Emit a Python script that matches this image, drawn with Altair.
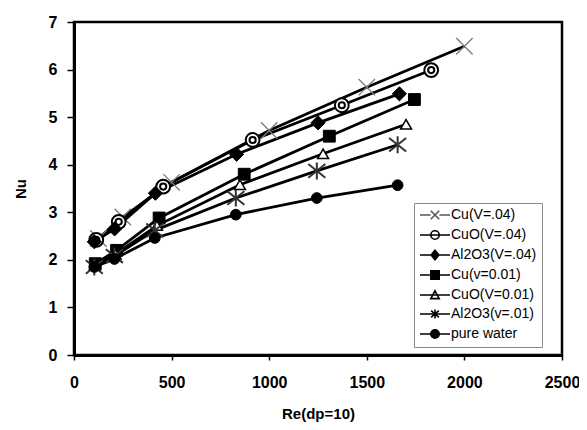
import altair as alt
import pandas as pd

# ---- data ----
series_names = ["Cu(V=.04)", "CuO(V=.04)", "Al2O3(V=.04)", "Cu(v=0.01)",
                "CuO(V=0.01)", "Al2O3(v=.01)", "pure water"]

re_cu_v04 = [125, 250, 500, 1000, 1500, 2000]
nu_cu_v04 = [2.45, 2.9, 3.63, 4.72, 5.63, 6.49]

re_cuo_v04 = [114, 229, 457, 915, 1372, 1830]
nu_cuo_v04 = [2.42, 2.8, 3.54, 4.52, 5.25, 5.99]

re_al_v04 = [104, 208, 417, 833, 1250, 1667]
nu_al_v04 = [2.38, 2.65, 3.4, 4.22, 4.88, 5.49]

re_cu_v01 = [109, 218, 436, 872, 1308, 1744]
nu_cu_v01 = [1.92, 2.2, 2.88, 3.8, 4.6, 5.37]

re_cuo_v01 = [106, 213, 425, 850, 1276, 1701]
nu_cuo_v01 = [1.88, 2.12, 2.72, 3.58, 4.23, 4.85]

re_al_v01 = [104, 207, 414, 829, 1244, 1658]
nu_al_v01 = [1.85, 2.08, 2.62, 3.3, 3.87, 4.42]

re_water = [104, 207, 414, 829, 1244, 1658]
nu_water = [1.85, 2.02, 2.46, 2.95, 3.3, 3.57]

x_ticks = [0, 500, 1000, 1500, 2000, 2500]
y_ticks = [0, 1, 2, 3, 4, 5, 6, 7]

all_re = [re_cu_v04, re_cuo_v04, re_al_v04, re_cu_v01, re_cuo_v01, re_al_v01, re_water]
all_nu = [nu_cu_v04, nu_cuo_v04, nu_al_v04, nu_cu_v01, nu_cuo_v01, nu_al_v01, nu_water]

rows = []
for name, xs, ys in zip(series_names, all_re, all_nu):
    for i, (a, b) in enumerate(zip(xs, ys)):
        rows.append({"series": name, "Re": a, "Nu": b, "order": i})
df = pd.DataFrame(rows)

# ---- marker shapes ----
X_PATH = "M-1,-1L1,1M-1,1L1,-1"
RING_PATH = ("M1,0A1,1,0,1,1,-1,0A1,1,0,1,1,1,0"
             "M0.45,0A0.45,0.45,0,1,1,-0.45,0A0.45,0.45,0,1,1,0.45,0")
STAR_PATH = "M-1,-0.8L1,0.8M-1,0.8L1,-0.8M0,-1V1"

marker_style = {
    "Cu(V=.04)": dict(shape=X_PATH, filled=False, stroke="#7a7a7a", strokeWidth=1.3, size=270),
    "CuO(V=.04)": dict(shape=RING_PATH, filled=True, fill="white", stroke="black", strokeWidth=2, size=190),
    "Al2O3(V=.04)": dict(shape="diamond", filled=True, fill="black", stroke="black", strokeWidth=1, size=200),
    "Cu(v=0.01)": dict(shape="square", filled=True, fill="black", stroke="black", strokeWidth=1, size=140),
    "CuO(V=0.01)": dict(shape="triangle-up", filled=True, fill="white", stroke="black", strokeWidth=1.5, size=120),
    "Al2O3(v=.01)": dict(shape=STAR_PATH, filled=False, stroke="#333333", strokeWidth=2, size=290),
    "pure water": dict(shape="circle", filled=True, fill="black", stroke="black", strokeWidth=1, size=115),
}

# legend symbols: a dash with the marker on it
leg_x = "M-5,0H-1.5M1.5,0H5M-1.4,-1.4L1.4,1.4M-1.4,1.4L1.4,-1.4"
leg_ring = "M-5,0H5M1.4,0A1.4,1.4,0,1,1,-1.4,0A1.4,1.4,0,1,1,1.4,0"
leg_diamond = "M-5,0H5M0,-1.6L1.3,0L0,1.6L-1.3,0Z"
leg_square = "M-5,0H5M-1.4,-1.4H1.4V1.4H-1.4Z"
leg_tri = "M-5,0H5M0,-1.4L1.4,1.2H-1.4Z"
leg_star = "M-5,0H5M-1.3,-1.1L1.3,1.1M-1.3,1.1L1.3,-1.1M0,-1.5V1.5"
leg_circle = "M-5,0H5M1.4,0A1.4,1.4,0,1,1,-1.4,0A1.4,1.4,0,1,1,1.4,0"
leg_shapes = [leg_x, leg_ring, leg_diamond, leg_square, leg_tri, leg_star, leg_circle]
leg_fills = ["transparent", "white", "black", "black", "white", "transparent", "black"]
leg_strokes = ["#555555", "black", "black", "black", "black", "black", "black"]

x_scale = alt.Scale(domain=[0, 2500], nice=False)
y_scale = alt.Scale(domain=[0, 7], nice=False)

x_axis = alt.Axis(values=x_ticks, title="Re(dp=10)", grid=False, tickSize=5,
                  labelPadding=14, titlePadding=16, format="d", labelFlush=False)
y_axis = alt.Axis(values=y_ticks, title="Nu", grid=False, tickSize=7,
                  labelPadding=10, titlePadding=20, labelFlush=False)

base = alt.Chart(df)

lines = base.mark_line(color="black", strokeWidth=2.8).encode(
    x=alt.X("Re:Q", scale=x_scale, axis=x_axis),
    y=alt.Y("Nu:Q", scale=y_scale, axis=y_axis),
    detail="series:N",
    order="order:Q",
)

layers = [lines]
for name in series_names:
    st = marker_style[name]
    layers.append(
        base.transform_filter(alt.datum.series == name)
        .mark_point(opacity=1, **st)
        .encode(x="Re:Q", y="Nu:Q")
    )

leg_kw = dict(title=None, orient="none", legendX=340, legendY=181,
              strokeColor="#8a8a8a", padding=5, fillColor="white",
              labelFont="Liberation Sans", labelFontSize=14,
              labelColor="black", rowPadding=4, symbolOffset=9,
              labelOffset=9, symbolStrokeWidth=1.6, symbolSize=36)

legend_layer = base.transform_filter("false").mark_point(
    filled=True, strokeWidth=1.6, size=36, opacity=1
).encode(
    x="Re:Q", y="Nu:Q",
    shape=alt.Shape("series:N", scale=alt.Scale(domain=series_names, range=leg_shapes),
                    legend=alt.Legend(**leg_kw)),
    fill=alt.Fill("series:N", scale=alt.Scale(domain=series_names, range=leg_fills),
                  legend=alt.Legend(**leg_kw)),
    stroke=alt.Stroke("series:N", scale=alt.Scale(domain=series_names, range=leg_strokes),
                      legend=alt.Legend(**leg_kw)),
)
layers.append(legend_layer)

chart = alt.layer(*layers).resolve_scale(
    shape="independent", fill="independent", stroke="independent"
).properties(
    width=488, height=333,
    background="white",
    autosize=alt.AutoSizeParams(type="none"),
    padding={"left": 66, "top": 14, "right": 17, "bottom": 67},
).configure_view(
    stroke="black", strokeWidth=2.5
).configure_axis(
    domainColor="black", domainWidth=3, tickColor="black", tickWidth=1.5,
    labelFont="Liberation Sans", labelFontWeight="bold", labelFontSize=16, labelColor="black",
    titleFont="Liberation Sans", titleFontWeight="bold", titleFontSize=15, titleColor="black",
)

chart.save("out.html", embed_options={"renderer": "svg", "actions": False})
